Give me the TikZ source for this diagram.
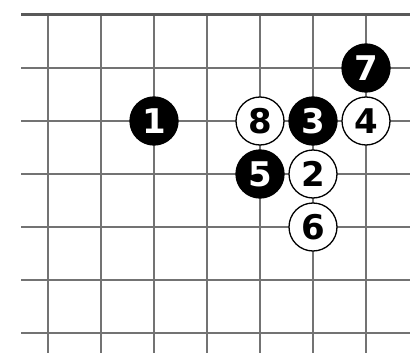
\documentclass[tikz,border=0pt]{standalone}
\usepackage{fontspec}
\setmainfont{DejaVu Sans}
\begin{document}
\begin{tikzpicture}[x=1pt,y=-1pt,
  gridline/.style={draw=black!55, line width=1.6pt},
  edgeline/.style={draw=black!65, line width=3pt},
  stone/.style={circle, minimum size=48pt, inner sep=0pt, line width=1.3pt,
    font=\bfseries\fontsize{34}{34}\selectfont},
  bstone/.style={stone, fill=black, draw=black, text=white},
  wstone/.style={stone, fill=white, draw=black, text=black}]
\useasboundingbox (0,0) rectangle (410,353);
\fill[white] (0,0) rectangle (410,353);
\foreach \y in {68,121,174,227,280,333}
  \draw[gridline] (21,\y) -- (410,\y);
\foreach \x in {48,101,154,207,260,313,366}
  \draw[gridline] (\x,15) -- (\x,353);
\draw[edgeline] (21,15) -- (410,15);
\node[bstone] (s1) at (154,121) {1};
\node[wstone] (s2) at (313,174) {2};
\node[bstone] (s3) at (313,121) {3};
\node[wstone] (s4) at (366,121) {4};
\node[bstone] (s5) at (260,174) {5};
\node[wstone] (s6) at (313,227) {6};
\node[bstone] (s7) at (366,68) {7};
\node[wstone] (s8) at (260,121) {8};
\end{tikzpicture}
\end{document}
